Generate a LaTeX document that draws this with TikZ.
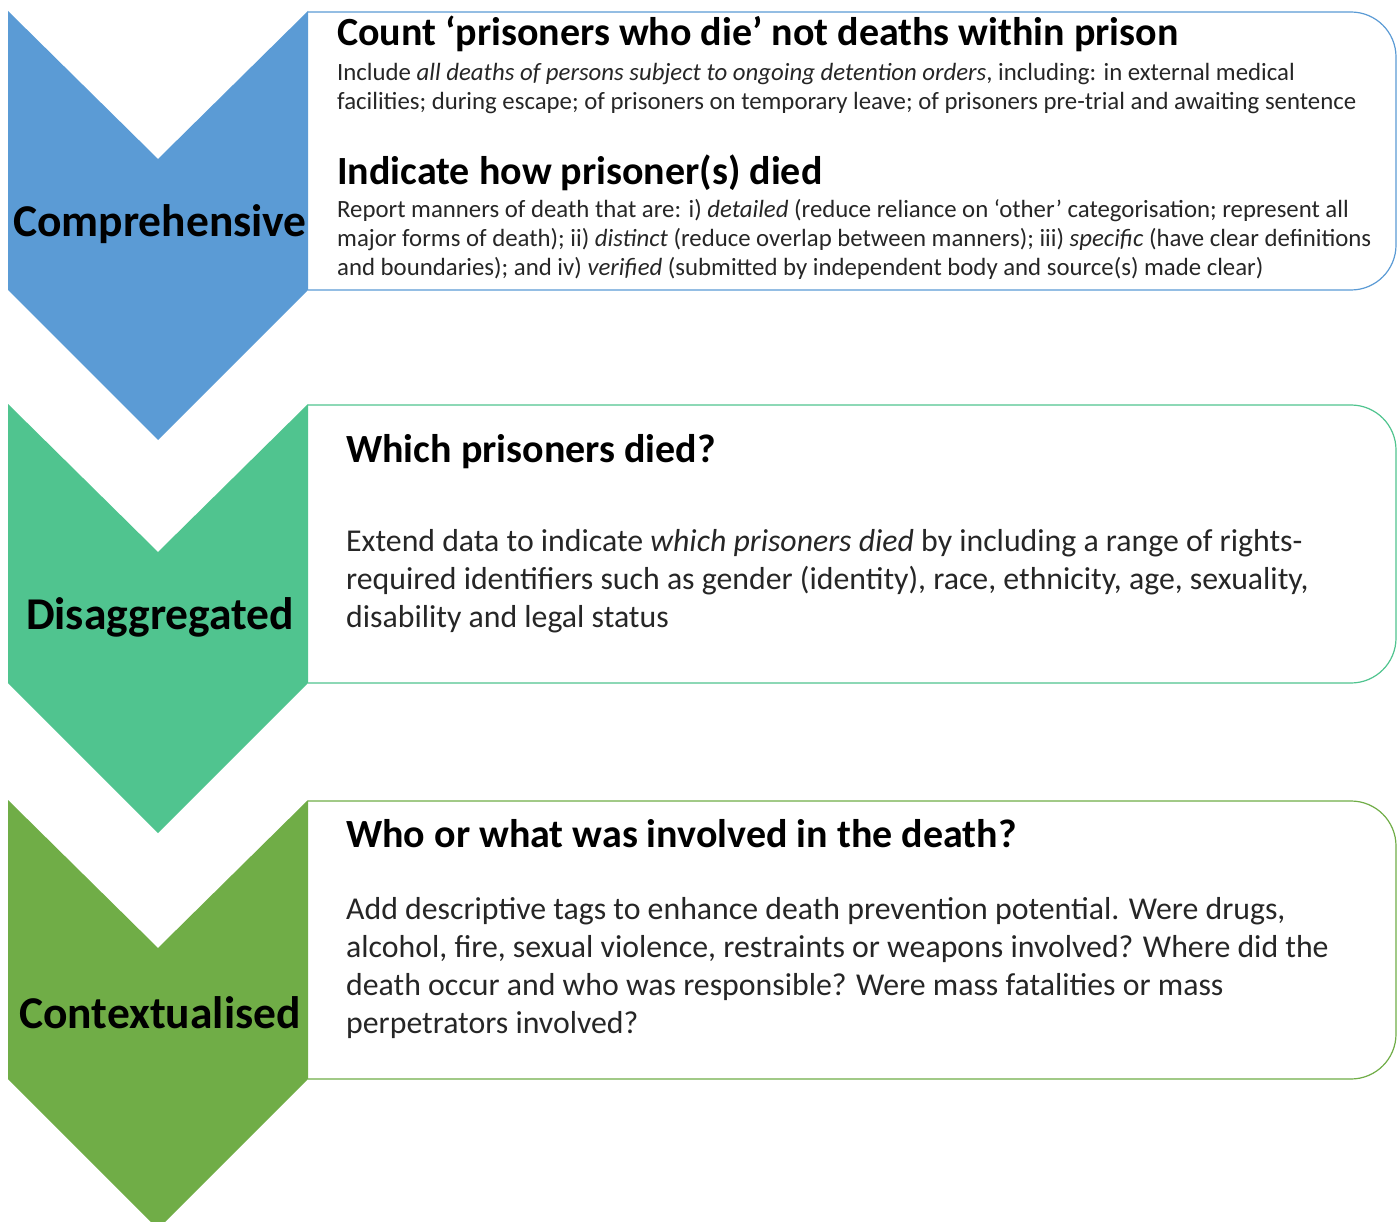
\documentclass[tikz,border=0pt]{standalone}
\usepackage{fontspec}
\setmainfont{Carlito}
\usetikzlibrary{calc}
\definecolor{stageblue}{RGB}{91,155,213}
\definecolor{stageteal}{RGB}{80,196,143}
\definecolor{stagegreen}{RGB}{112,173,71}
\tikzstyle{panel} = [line width=1.2pt, fill=white, rounded corners=45pt]
\tikzstyle{stagename} = [inner sep=0pt, font=\fontsize{45.5}{48}\selectfont\bfseries]
\tikzstyle{headtext} = [anchor=base west, inner sep=0pt, font=\fontsize{40}{44}\selectfont\bfseries]
\tikzstyle{smalltext} = [anchor=base west, inner sep=0pt, align=left, text=black!85, font=\fontsize{24.8}{29.3}\selectfont]
\tikzstyle{bodytext} = [anchor=base west, inner sep=0pt, align=left, text=black!85, font=\fontsize{31.8}{37.7}\selectfont]

\begin{document}
\begin{tikzpicture}[x=1pt,y=-1pt]
\useasboundingbox (0,0) rectangle (1397,1222);
\clip (0,0) rectangle (1397,1222);

% boxes first, chevrons on top
\foreach \top/\col/\name/\txt in {11/stageblue/comp/Comprehensive,404/stageteal/disagg/Disaggregated,800/stagegreen/context/Contextualised} {
\draw[panel,draw=\col] (308,\top+1) -- (1396,\top+1) -- (1396,\top+279) -- (308,\top+279);
\fill[\col] (8,\top) -- (158,\top+148) -- (308,\top) -- (308,\top+279)
  -- (158,\top+429) -- (8,\top+279) -- cycle;
\node[stagename] (\name) at (160,\top+213) {\txt};
}

% multi-line texts sit on the baseline of their last line
\node[headtext] (comphead) at (337,46) {Count ‘prisoners who die’ not deaths within prison};
\node[smalltext] (compbody) at (337,110) {Include \textit{all deaths of persons subject to ongoing detention orders}, including: in external medical\\
facilities; during escape; of prisoners on temporary leave; of prisoners pre-trial and awaiting sentence};
\node[headtext] (howhead) at (337,185) {Indicate how prisoner(s) died};
\node[smalltext] (howbody) at (337,276) {Report manners of death that are: i) \textit{detailed} (reduce reliance on ‘other’ categorisation; represent all\\
major forms of death); ii) \textit{distinct} (reduce overlap between manners); iii) \textit{specific} (have clear definitions\\
and boundaries); and iv) \textit{verified} (submitted by independent body and source(s) made clear)};

\node[headtext] (disagghead) at (346,462) {Which prisoners died?};
\node[bodytext] (disaggbody) at (346,627) {Extend data to indicate \textit{which prisoners died} by including a range of rights-\\
required identifiers such as gender (identity), race, ethnicity, age, sexuality,\\
disability and legal status};

\node[headtext] (contexthead) at (346,847) {Who or what was involved in the death?};
\node[bodytext] (contextbody) at (346,1033) {Add descriptive tags to enhance death prevention potential. Were drugs,\\
alcohol, fire, sexual violence, restraints or weapons involved? Where did the\\
death occur and who was responsible? Were mass fatalities or mass\\
perpetrators involved?};
\end{tikzpicture}
\end{document}
